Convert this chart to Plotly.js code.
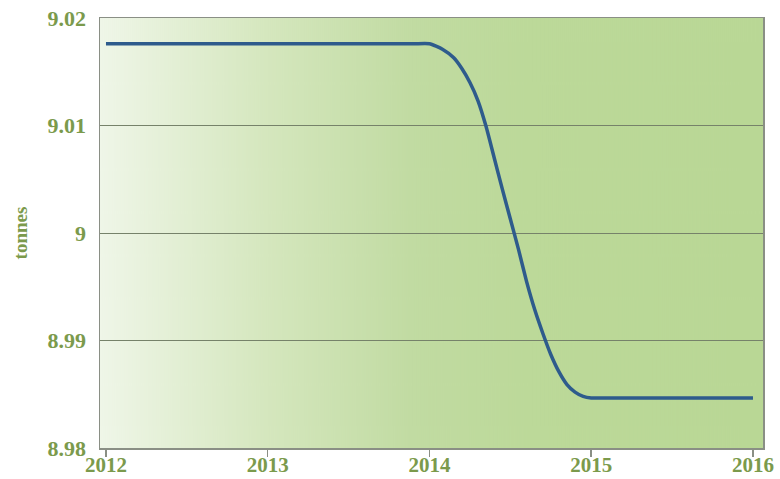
<!DOCTYPE html>
<html>
<head>
<meta charset="utf-8">
<script src="https://cdn.plot.ly/plotly-3.0.1.min.js"></script>
<style>html,body{margin:0;padding:0;background:#fff;}#chart{width:780px;height:479px;}</style>
</head>
<body>
<div id="chart"></div>
<script>
// Data
const years = [2012, 2013, 2013.9, 2014.0, 2014.08, 2014.15, 2014.2, 2014.25, 2014.3, 2014.35, 2014.4, 2014.45, 2014.5, 2014.55, 2014.6, 2014.65, 2014.7, 2014.75, 2014.8, 2014.85, 2014.9, 2014.95, 2015.0, 2015.1, 2016];
const tonnes = [9.0176, 9.0176, 9.0176, 9.0176, 9.0171, 9.0163, 9.0153, 9.0140, 9.0123, 9.0099, 9.0070, 9.0041, 9.0013, 8.9985, 8.9955, 8.9929, 8.9907, 8.9887, 8.9871, 8.9859, 8.9852, 8.9848, 8.98465, 8.98465, 8.98465];
const xTicks = [2012, 2013, 2014, 2015, 2016];
const xTickText = ['2012', '2013', '2014', '2015', '2016'];
const yTicks = [8.98, 8.99, 9.00, 9.01, 9.02];
const yTickText = ['8.98', '8.99', '9', '9.01', '9.02'];

// Background gradient image
const cv = document.createElement('canvas');
cv.width = 663; cv.height = 10;
const ctx = cv.getContext('2d');
const g = ctx.createLinearGradient(0, 0, 663, 0);
g.addColorStop(0, '#eff6e8');
g.addColorStop(0.25, '#d5e7be');
g.addColorStop(0.47, '#c1dba2');
g.addColorStop(0.65, '#bcd999');
g.addColorStop(1, '#b9d795');
ctx.fillStyle = g;
ctx.fillRect(0, 0, 663, 10);
const bg = cv.toDataURL();

const green = '#7b9a4c';
const serif = '"Liberation Serif", "DejaVu Serif", serif';
const font = {family: serif, size: 22, color: green, weight: 'bold'};
const xfont = {family: serif, size: 21, color: green, weight: 'bold'};

const trace = {
  x: years, y: tonnes, type: 'scatter', mode: 'lines',
  line: {color: '#2e5b8c', width: 3.5, shape: 'spline', smoothing: 0.5},
  hoverinfo: 'skip'
};

const layout = {
  width: 780, height: 479,
  margin: {l: 100, r: 17, t: 18, b: 31},
  paper_bgcolor: '#ffffff',
  plot_bgcolor: 'rgba(0,0,0,0)',
  showlegend: false,
  images: [{source: bg, xref: 'paper', yref: 'paper', x: 0, y: 1, sizex: 1, sizey: 1, sizing: 'stretch', layer: 'below', xanchor: 'left', yanchor: 'top'}],
  xaxis: {
    range: [2011.963, 2016.062],
    tickvals: xTicks, ticktext: xTickText,
    showgrid: false, zeroline: false,
    showline: true, linecolor: '#8a8f85', linewidth: 1.5, mirror: true,
    ticks: 'outside', ticklen: 7, tickcolor: '#8a8f85', tickwidth: 1.5,
    ticklabelstandoff: -10,
    tickfont: xfont
  },
  yaxis: {
    range: [8.98, 9.02],
    tickvals: yTicks, ticktext: yTickText,
    showgrid: true, gridcolor: '#76826a', gridwidth: 1,
    zeroline: false,
    showline: true, linecolor: '#8a8f85', linewidth: 1.5, mirror: true,
    ticks: '', ticklabelstandoff: 8,
    tickfont: font,
    title: {text: 'tonnes', font: {family: serif, size: 19, color: green, weight: 'bold'}, standoff: 15}
  }
};

Plotly.newPlot('chart', [trace], layout, {displayModeBar: false, staticPlot: true});
</script>
</body>
</html>
